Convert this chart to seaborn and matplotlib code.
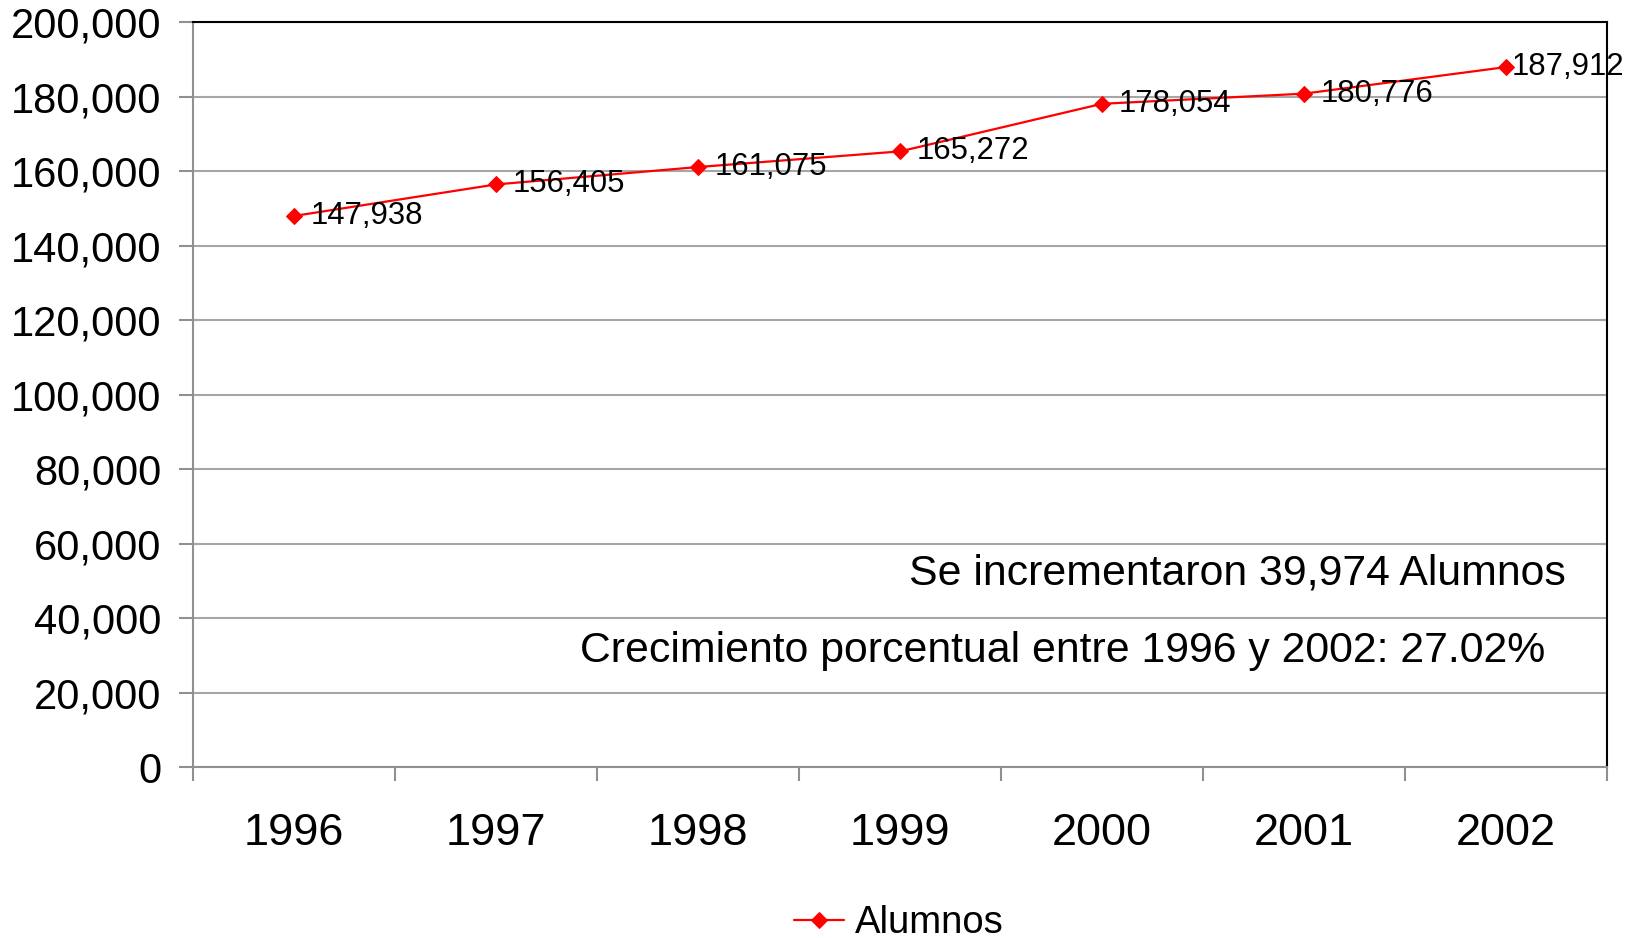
import matplotlib
matplotlib.use("Agg")
import matplotlib.pyplot as plt
import seaborn as sns
import pandas as pd
import numpy as np
from matplotlib.ticker import FuncFormatter, FixedLocator

years = ["1996", "1997", "1998", "1999", "2000", "2001", "2002"]
alumnos = [147938, 156405, 161075, 165272, 178054, 180776, 187912]
labels = ["147,938", "156,405", "161,075", "165,272", "178,054", "180,776", "187,912"]
yticks = list(range(0, 200001, 20000))
note1 = "Se incrementaron 39,974 Alumnos"
note2 = "Crecimiento porcentual entre 1996 y 2002: 27.02%"
series_name = "Alumnos"

sns.set_theme(style="white")
plt.rcParams['font.family'] = ['Liberation Sans', 'DejaVu Sans']
plt.rcParams['text.color'] = 'black'

df = pd.DataFrame({"Año": years, series_name: alumnos, "idx": np.arange(len(years))})

fig = plt.figure(figsize=(16.36, 9.38), dpi=100)
ax = fig.add_axes([0.118, 0.1823, 0.9823 - 0.118, 0.9765 - 0.1823])

sns.lineplot(data=df, x="idx", y=series_name, ax=ax, color="#ff0000", linewidth=1.6,
             marker="D", markersize=8, markeredgecolor="#ff0000", label=series_name)

ax.set_xlim(-0.5, len(years) - 0.5)
ax.set_ylim(0, 200000)
ax.set_xlabel("")
ax.set_ylabel("")

ax.xaxis.set_major_locator(FixedLocator(list(range(len(years)))))
ax.set_xticklabels(years)
ax.xaxis.set_minor_locator(FixedLocator(list(np.arange(-0.5, len(years), 1.0))))
ax.tick_params(axis="x", which="major", length=0, pad=33, labelsize=32.5, colors="black")
ax.tick_params(axis="x", which="minor", length=10, width=1.5, color="#909090", bottom=True)

ax.set_yticks(yticks)
ax.yaxis.set_major_formatter(FuncFormatter(lambda v, p: f"{int(v):,}"))
ax.tick_params(axis="y", which="major", length=10, width=1.5, color="#909090", pad=13,
               labelsize=30, labelcolor="black", left=True)

ax.grid(axis="y", color="#a6a6a6", linewidth=1.5)
ax.set_axisbelow(True)

for side in ["top", "right"]:
    ax.spines[side].set_color("black")
    ax.spines[side].set_linewidth(1.5)
for side in ["left", "bottom"]:
    ax.spines[side].set_color("#909090")
    ax.spines[side].set_linewidth(1.5)

for i, (v, t) in enumerate(zip(alumnos, labels)):
    dx = 12 if i < len(alumnos) - 1 else 4
    ax.annotate(t, (i, v), xytext=(dx, 0), textcoords="offset points",
                ha="left", va="center", fontsize=22.4, color="black",
                annotation_clip=False)

fig.text(909 / 1636, 1 - 574 / 938, note1, fontsize=30.8, ha="left", va="center", color="black")
fig.text(580 / 1636, 1 - 651 / 938, note2, fontsize=30.8, ha="left", va="center", color="black")

leg = ax.legend(loc="center", bbox_to_anchor=(899 / 1636, 1 - 923 / 938),
                bbox_transform=fig.transFigure, frameon=False, fontsize=27.5,
                handlelength=1.3, handletextpad=0.3)
for t in leg.get_texts():
    t.set_color("black")

fig.savefig("out.png", dpi=100, facecolor="white")
